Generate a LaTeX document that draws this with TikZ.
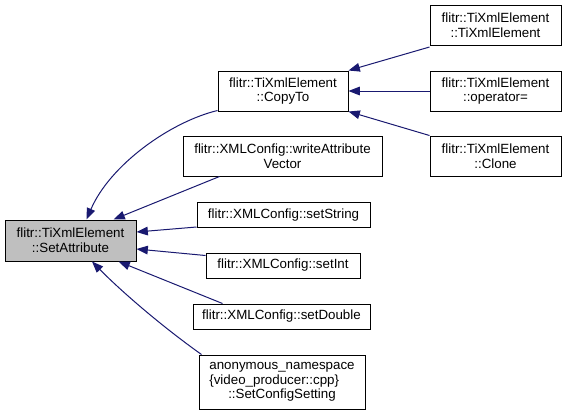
\documentclass[tikz,border=0pt]{standalone}
\usepackage{fontspec}
\setmainfont{Liberation Sans}
\usetikzlibrary{arrows.meta,calc}
\definecolor{edgeblue}{HTML}{191970}
\definecolor{boxgray}{HTML}{BFBFBF}
\begin{document}
\begin{tikzpicture}[x=0.75pt,y=-0.75pt,
  fnode/.style={draw=black,line width=0.75pt,inner sep=0pt,align=center,
    font=\fontsize{10}{11}\selectfont},
  calledge/.style={draw=edgeblue,line width=0.75pt,
    -{Triangle[length=8.5pt,width=6.5pt,fill=edgeblue]}}]
\useasboundingbox (0,0) rectangle (567,415);
\node[fnode,fill=boxgray,minimum width=131*0.75pt,minimum height=41*0.75pt] (sa) at (70.5,240.5) {flitr::TiXmlElement\\::SetAttribute};
\node[fnode,minimum width=130*0.75pt,minimum height=40*0.75pt] (cp) at (283,91) {flitr::TiXmlElement\\::CopyTo};
\node[fnode,minimum width=199*0.75pt,minimum height=40*0.75pt] (wa) at (282.5,156) {flitr::XMLConfig::writeAttribute\\Vector};
\node[fnode,minimum width=173*0.75pt,minimum height=25*0.75pt] (ss) at (283.5,215) {flitr::XMLConfig::setString};
\node[fnode,minimum width=154*0.75pt,minimum height=25*0.75pt] (si) at (283,265.5) {flitr::XMLConfig::setInt};
\node[fnode,minimum width=177*0.75pt,minimum height=25*0.75pt] (sd) at (281.5,316.5) {flitr::XMLConfig::setDouble};
\node[fnode,minimum width=166*0.75pt,minimum height=54*0.75pt] (scs) at (282,382) {anonymous\_namespace\\\rlap{\{video\_producer::cpp\}}\phantom{anonymous\_namespace}\\::SetConfigSetting};
\node[fnode,minimum width=131*0.75pt,minimum height=40*0.75pt] (tx) at (495.5,25.5) {flitr::TiXmlElement\\::TiXmlElement};
\node[fnode,minimum width=131*0.75pt,minimum height=40*0.75pt] (op) at (495.5,91) {flitr::TiXmlElement\\::operator=};
\node[fnode,minimum width=131*0.75pt,minimum height=40*0.75pt] (cl) at (495.5,156) {flitr::TiXmlElement\\::Clone};
% edges
\draw[calledge] ($(cp.south west)+(0,-1)$) .. controls (170,122) and (110,165) .. ($(sa.north)+(16,0)$);
\draw[calledge] ($(wa.south west)+(37,0)$) -- ($(sa.north east)+(-23,0)$);
\draw[calledge] ($(ss.south west)+(0,-1)$) -- ($(sa.east)+(0,-8.5)$);
\draw[calledge] ($(si.north west)+(0,3)$) -- ($(sa.east)+(0,8.5)$);
\draw[calledge] ($(sd.north west)+(30,0)$) -- ($(sa.south east)+(-18,0)$);
\draw[calledge] ($(scs.north west)+(3,0)$) .. controls (160,325) and (120,290) .. ($(sa.south)+(21.5,0)$);
\draw[calledge] ($(tx.south west)+(0,1)$) -- (cp.north east);
\draw[calledge] (op.west) -- (cp.east);
\draw[calledge] (cl.north west) -- (cp.south east);
\end{tikzpicture}
\end{document}
